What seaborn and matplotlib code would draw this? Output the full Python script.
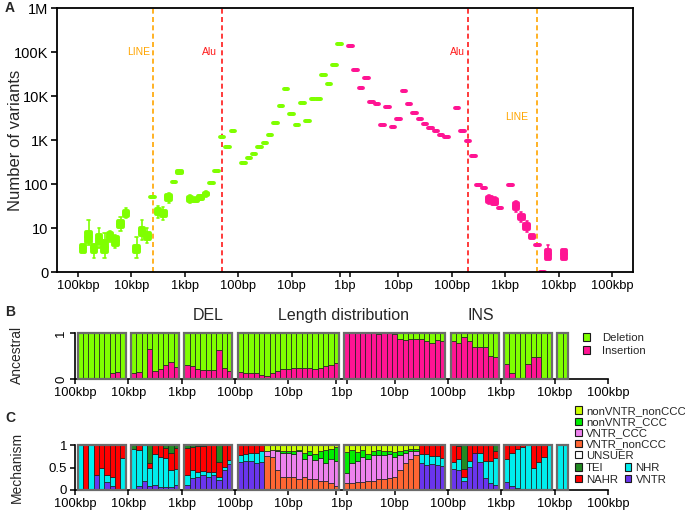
import matplotlib
matplotlib.use("Agg")
import matplotlib.pyplot as plt
from matplotlib.patches import Patch, Rectangle
from matplotlib.ticker import NullLocator
import seaborn as sns
import pandas as pd
import numpy as np

# ---------------------------------------------------------------
# Dados
# ---------------------------------------------------------------
# bins: deleções de 100kbp até 1bp, inserções de 1bp até 100kbp
del_group_sizes = [9, 9, 9, 19]
ins_group_sizes = [19, 9, 9, 2]

tick_labels = ['100kbp', '10kbp', '1kbp', '100bp', '10bp', '1bp',
               '1bp', '10bp', '100bp', '1kbp', '10kbp', '100kbp']

repeat_names = ['LINE', 'Alu']
repeat_lengths = [6000, 300]

# A: número de variantes (mediana por bin)
del_med = [5.5, 8.0, 5.5, 7.5, 5.7, 8.0, 7.0, 12.3, 21.9,
           5.2, 9.3, 8.2, 50, 23.1, 21.9, 50.6, 111, 187,
           45.7, 43.6, 48, 59, 105, 196, 1170, 693, 1600,
           300, 390, 481, 693, 855, 1300, 2430, 5930, 14400, 3900,
           2190, 6940, 2700, 8550, 8550, 30000, 18700, 50700, 152000]
ins_med = [136800, 39000, 15200, 25600, 7310, 6580, 2190, 5620, 1975, 3000,
           13000, 6580, 4110, 3000, 2310, 1870, 1600, 1300, 1170,
           5340, 1600, 949, 433, 95, 81, 45.6, 39, 28.5,
           95, 31.6, 17.8, 11, 8.0, 6.1, 0, 4.1, None,
           4.1, None]

# caixas visíveis: índice do bin, bigode inferior, Q1, Q3, bigode superior
del_box_idx = [0, 1, 2, 3, 4, 5, 6, 7, 8, 9, 10, 11, 13, 14, 15, 17, 18, 19, 20, 21]
del_lo = [4.5, 6.1, 3.2, 5.5, 3.2, 6.8, 5.5, 9.3, 16.9, 3.2, 7.3, 6.6, 16.9, 15.2, 37, 170, 37, 39, 43, 50]
del_q1 = [4.5, 6.8, 4.5, 6.6, 4.5, 7.5, 6.1, 10.5, 18.7, 4.5, 8.4, 7.5, 20.8, 18.7, 43.3, 178, 41, 41, 45, 55]
del_q3 = [6.1, 9.1, 6.1, 8.4, 7.0, 8.9, 8.0, 14.4, 24.3, 5.9, 10, 8.9, 27, 24.3, 56.3, 196, 50, 46, 52, 64]
del_hi = [6.1, 15.2, 6.1, 10, 8.9, 9.3, 8.4, 17.8, 28.5, 8.0, 15.2, 10, 31.6, 30, 62.4, 205, 55, 50, 55, 70]

ins_box_idx = [25, 26, 29, 30, 31, 32, 35, 37]
ins_lo = [35, 33, 23, 13.7, 9.1, 7.7, 3.0, 3.0]
ins_q1 = [39, 35, 27, 16, 9.8, 7.7, 3.0, 3.0]
ins_q3 = [50, 45.7, 37, 20, 12.3, 8.4, 5.0, 5.0]
ins_hi = [56, 50, 41, 23, 14.3, 8.4, 6.1, 5.0]

# B: fração de alelo ancestral "Insertion"
del_ins_frac = [0, 0, 0, 0, 0, 0, 0.12, 0.16, 0,
                0.13, 0.16, 0, 0.65, 0.18, 0.22, 0.31, 0.37, 0.26,
                0.31, 0.29, 0.22, 0.19, 0.20, 0.20, 0.62, 0.25, 0.18,
                0.16, 0.13, 0.14, 0.14, 0.09, 0.07, 0.13, 0.17, 0.21, 0.22,
                0.23, 0.25, 0.25, 0.23, 0.22, 0.23, 0.28, 0.30, 0.35]
ins_ins_frac = [1, 1, 1, 1, 1, 0.99, 0.97, 1, 0.99, 0.98,
                0.87, 0.84, 0.87, 0.87, 0.86, 0.83, 0.78, 0.84, 0.82,
                0.83, 0.78, 0.91, 0.82, 0.70, 0.70, 0.70, 0.51, 0.48,
                0.33, 0.12, 0, 0, 0.33, 0.47, 0.47, 0, 0,
                0, 0]

# C: mecanismos (bins grandes)
vntr = ([0, 0, 0, .34, 0, .17, .08, 0, 0] +
        [0, .08, .20, .08, .12, .06, .06, .06, .12] +
        [.12, .27, .30, .33, .28, .34, .23, .45, .58] +
        [.62, .64, .65, .60, .62] + [0] * 14 +
        [0] * 14 + [.60, .55, .58, .55, .53] +
        [.47, .44, .19, .52, .82, .63, .27, .16, .12] +
        [.18, .08, .05, 0, 0, 0, 0, 0, 0] + [0, 0])
nhr = ([1, 0, 1, 0, .5, .17, .20, 0, .72] +
       [.91, .80, .80, .41, .67, .67, .65, .39, .35] +
       [.22, .17, .11, .10, .11, .07, .06, .07, .09] +
       [.15, .16, .17, .22, .25] + [0] * 14 +
       [0] * 14 + [.19, .24, .17, .20, .18] +
       [.15, .25, .09, .13, 0, .19, .38, .48, .59] +
       [.52, .74, .87, .96, 1, .50, .62, .74, 1] + [1, 1])
nahr = ([0, 1, 0, .66, .5, .66, .72, 1, .28] +
        [0, .12, 0, .11, .21, .27, .22, .37, .46] +
        [.59, .52, .56, .55, .61, .59, .33, .48, .33] +
        [.23, .20, .18, .18, .13] + [0] * 14 +
        [0] * 14 + [.21, .21, .25, .25, .29] +
        [.38, .28, .19, .35, .18, .18, .35, .36, .16] +
        [.30, .18, .08, .04, 0, .50, .38, .26, 0] + [0, 0])
tei = ([0] * 9 +
       [.09, 0, 0, .40, 0, 0, .07, .18, .07] +
       [.07, .04, .03, .02, 0, 0, .38, 0, 0] +
       [0] * 19 + [0] * 19 +
       [0, .03, .53, 0, 0, 0, 0, 0, .13] +
       [0] * 9 + [0, 0])

# C: mecanismos (bins pequenos, < 50bp)
del_vntr_nonccc = [.75, .73, .45, .30, .28, .28, .25, .28, .25, .25, .21, .19, .16, .08]
del_vntr_ccc = [.12, .17, .42, .53, .54, .52, .61, .41, .52, .41, .50, .41, .54, .56]
del_nonvntr_ccc = [0, 0, .02, .04, .04, .06, .04, .13, .09, .13, .16, .28, .22, .31]
del_nonvntr_nonccc = [.13, .10, .11, .13, .14, .14, .10, .18, .14, .21, .13, .12, .08, .05]
ins_vntr_nonccc = [.15, .15, .17, .17, .20, .20, .24, .24, .26, .30, .44, .60, .70, .78]
ins_vntr_ccc = [.22, .44, .47, .56, .50, .57, .53, .54, .55, .44, .33, .22, .16, .08]
ins_nonvntr_ccc = [.48, .30, .20, .16, .11, .10, .11, .09, .06, .10, .10, .06, .06, .05]
ins_nonvntr_nonccc = [.15, .11, .16, .11, .19, .13, .12, .13, .13, .16, .13, .12, .08, .09]

# ---------------------------------------------------------------
# Estilo
# ---------------------------------------------------------------
sns.set_theme(style="ticks")
plt.rcParams['font.family'] = ['Liberation Sans', 'DejaVu Sans']
plt.rcParams['axes.edgecolor'] = 'black'
plt.rcParams['xtick.color'] = 'black'
plt.rcParams['ytick.color'] = 'black'

GREEN = '#7FFF00'
PINK = '#FF1493'
EDGE = '#1a1a1a'
FRAME = '#6b6b6b'
mech_colors = {
    'VNTR': '#6A35EE', 'NHR': '#00EEEE', 'NAHR': '#FF0000', 'TEI': '#228B22',
    'UNSUER': '#FFFFFF', 'VNTR_nonCCC': '#FF6633', 'VNTR_CCC': '#EE82EE',
    'nonVNTR_CCC': '#00EE00', 'nonVNTR_nonCCC': '#CCFF00',
}

W, H = 685, 511
fig = plt.figure(figsize=(W / 100, H / 100), dpi=100)


def rect(left, top, right, bottom):
    return [left / W, 1 - bottom / H, (right - left) / W, (bottom - top) / H]


ax_a = fig.add_axes(rect(57, 8, 633, 272))
ax_b = fig.add_axes(rect(75, 333, 608, 379))
ax_c = fig.add_axes(rect(75, 445, 608, 490))


# posições dos bins: grupos separados por uma posição vazia
def groups(sizes, start):
    out = []
    for n in sizes:
        out.append((start, n))
        start += n + 1
    return out


del_groups = groups(del_group_sizes, 1)
ins_groups = groups(ins_group_sizes, del_groups[-1][0] + del_groups[-1][1] + 1)
del_slots = [s + i for s, n in del_groups for i in range(n)]
ins_slots = [s + i for s, n in ins_groups for i in range(n)]
all_slots = del_slots + ins_slots
center = del_slots[-1] + 1
tick_pos = [0, 10, 20, 30, 40, center - 1, center + 1, 60, 70, 80, 90, 100]


def len_to_slot(length, side):
    k = int(np.floor(np.log10(length)))
    j = int(length // 10 ** k)
    return center + side * (10 * k + j)


def box_frame(slots, med, idx, lo, q1, q3, hi):
    spread = dict(zip(idx, zip(lo, q1, q3, hi)))
    rows = []
    for i, (s, m) in enumerate(zip(slots, med)):
        if m is None:
            continue
        a, b, c, d = spread.get(i, (m, m, m, m))
        rows += [(s, v) for v in (a, b, m, c, d)]
    return pd.DataFrame(rows, columns=['slot', 'count'])


def x_axis(ax, size=9.3):
    ax.set_xticks(tick_pos)
    ax.set_xticklabels([t if p not in (center - 1, center + 1) else ''
                        for t, p in zip(tick_labels, tick_pos)], fontsize=size)
    ax.set_xticks([center], ['1bp'], minor=True)
    ax.tick_params(axis='x', which='major', length=3.5, width=1.1, pad=2)
    ax.tick_params(axis='x', which='minor', length=3.5, width=0, labelsize=size, pad=2)
    ax.set_xlabel('')


# ---------------------------------------------------------------
# A: distribuição de tamanhos
# ---------------------------------------------------------------
df_del = box_frame(del_slots, del_med, del_box_idx, del_lo, del_q1, del_q3, del_hi)
df_ins = box_frame(ins_slots, ins_med, ins_box_idx, ins_lo, ins_q1, ins_q3, ins_hi)
for df, col in [(df_del, GREEN), (df_ins, PINK)]:
    sns.boxplot(data=df, x='slot', y='count', orient='x', native_scale=True,
                color=col, linecolor=col, saturation=1, width=0.85,
                whis=(0, 100), linewidth=2.8, ax=ax_a,
                boxprops=dict(joinstyle='round'),
                medianprops=dict(solid_capstyle='round'),
                whiskerprops=dict(linewidth=1.2), capprops=dict(linewidth=1.2))

ax_a.set_yscale('symlog', linthresh=10, linscale=0.9)
ax_a.set_ylim(0, 1e6)
ax_a.set_xlim(-3.9, 103.9)
ax_a.set_yticks([0, 10, 100, 1e3, 1e4, 1e5, 1e6])
ax_a.set_yticklabels(['0', '10', '100', '1K', '10K', '100K', '1M'], fontsize=10.5)
ax_a.yaxis.set_minor_locator(NullLocator())
ax_a.tick_params(axis='y', length=4, width=1.2, pad=2)
ax_a.set_ylabel('')
x_axis(ax_a)
for sp in ax_a.spines.values():
    sp.set_linewidth(1.3)
    sp.set_color('black')

rep_colors = {'LINE': '#FFA500', 'Alu': '#FF1A1A'}
label_y = {('LINE', -1): 1e5, ('Alu', -1): 1e5, ('Alu', 1): 1e5, ('LINE', 1): 3300}
label_gap = {('LINE', -1): 0.5, ('Alu', -1): 1.0, ('Alu', 1): 0.5, ('LINE', 1): 1.7}
for name, length in zip(repeat_names, repeat_lengths):
    for side in (-1, 1):
        s = len_to_slot(length, side)
        ax_a.axvline(s, color=rep_colors[name], ls=(0, (3, 2)), lw=1.2, zorder=0)
        ax_a.text(s - label_gap[(name, side)], label_y[(name, side)], name,
                  color=rep_colors[name], fontsize=7.5, ha='right', va='center')

fig.text(16 / W, 1 - 140 / H, 'Number of variants', rotation=90,
         fontsize=12, ha='center', va='center')

# ---------------------------------------------------------------
# B e C: barras empilhadas
# ---------------------------------------------------------------
def stacked(ax, layers, colors):
    x = np.asarray(all_slots, float)
    bottom = np.zeros(len(x))
    for vals, col in zip(layers, colors):
        vals = np.asarray(vals, float)
        keep = vals > 0
        ax.bar(x[keep], vals[keep], bottom=bottom[keep], width=1.0, color=col,
               edgecolor=EDGE, linewidth=0.5, zorder=2)
        bottom += vals


def frames(ax):
    for start, n in del_groups + ins_groups:
        ax.add_patch(Rectangle((start - 0.5, 0), n, 1, fill=False, edgecolor=FRAME,
                               lw=1.6, zorder=3, clip_on=False))


def small_panel(ax):
    ax.set_xlim(0, 100)
    ax.set_ylim(0, 1)
    x_axis(ax)
    sns.despine(ax=ax)
    for sp in ('left', 'bottom'):
        ax.spines[sp].set_linewidth(1.2)
        ax.spines[sp].set_color('black')
    ax.tick_params(axis='y', length=3.5, width=1.1, pad=2)


ins_frac = np.array(del_ins_frac + ins_ins_frac, float)
stacked(ax_b, [ins_frac, 1 - ins_frac], [PINK, GREEN])
frames(ax_b)
small_panel(ax_b)
ax_b.set_yticks([0, 1])
ax_b.set_yticklabels(['0', '1'], rotation=90, va='center', fontsize=9.5)
fig.text(17 / W, 1 - 355 / H, 'Ancestral', rotation=90, fontsize=10, ha='center', va='center')
fig.text(208 / W, 1 - 315 / H, 'DEL', fontsize=11.5, ha='center', va='center')
fig.text(343 / W, 1 - 315 / H, 'Length distribution', fontsize=11.5, ha='center', va='center')
fig.text(481 / W, 1 - 315 / H, 'INS', fontsize=11.5, ha='center', va='center')

fig.legend(handles=[Patch(facecolor=GREEN, edgecolor=EDGE, lw=0.8, label='Deletion'),
                    Patch(facecolor=PINK, edgecolor=EDGE, lw=0.8, label='Insertion')],
           loc='upper left', bbox_to_anchor=(583 / W, 1 - 333 / H), frameon=False,
           fontsize=8.2, handlelength=0.65, handleheight=0.65, handletextpad=1.0,
           labelspacing=0.25, borderpad=0, borderaxespad=0)

# os bins pequenos começam no 6º bin do 4º grupo de deleções
small_pad = [0] * (sum(del_group_sizes[:3]) + 5)
tail_pad = [0] * (len(all_slots) - len(small_pad) - 28)
mech = {
    'VNTR': vntr, 'NHR': nhr, 'NAHR': nahr, 'TEI': tei,
    'VNTR_nonCCC': small_pad + del_vntr_nonccc + ins_vntr_nonccc + tail_pad,
    'VNTR_CCC': small_pad + del_vntr_ccc + ins_vntr_ccc + tail_pad,
    'nonVNTR_CCC': small_pad + del_nonvntr_ccc + ins_nonvntr_ccc + tail_pad,
    'nonVNTR_nonCCC': small_pad + del_nonvntr_nonccc + ins_nonvntr_nonccc + tail_pad,
}
order = ['VNTR', 'NHR', 'NAHR', 'TEI', 'VNTR_nonCCC', 'VNTR_CCC', 'nonVNTR_CCC', 'nonVNTR_nonCCC']
stacked(ax_c, [mech[k] for k in order], [mech_colors[k] for k in order])
frames(ax_c)
small_panel(ax_c)
ax_c.set_yticks([0, 0.5, 1])
ax_c.set_yticklabels(['0', '0.5', '1'], fontsize=9.5)
fig.text(17 / W, 1 - 467 / H, 'Mechanism', rotation=90, fontsize=10, ha='center', va='center')


def mpatch(k):
    return Patch(facecolor=mech_colors[k], edgecolor=EDGE, lw=0.8, label=k)


leg_kw = dict(loc='upper left', frameon=False, fontsize=8.2, handlelength=0.6,
              handleheight=0.6, handletextpad=0.35, labelspacing=0.1,
              borderpad=0, borderaxespad=0, columnspacing=0.6)
fig.legend(handles=[mpatch(k) for k in
                    ['nonVNTR_nonCCC', 'nonVNTR_CCC', 'VNTR_CCC', 'VNTR_nonCCC', 'UNSUER']],
           bbox_to_anchor=(575 / W, 1 - 406 / H), **leg_kw)
fig.legend(handles=[mpatch(k) for k in ['TEI', 'NAHR', 'NHR', 'VNTR']], ncol=2,
           bbox_to_anchor=(575 / W, 1 - 463 / H), **{**leg_kw, 'labelspacing': 0.15})

for letter, y in [('A', 8), ('B', 312), ('C', 418)]:
    fig.text(5 / W, 1 - y / H, letter, fontsize=10, fontweight='bold', va='center')

fig.savefig('out.png', dpi=100)
